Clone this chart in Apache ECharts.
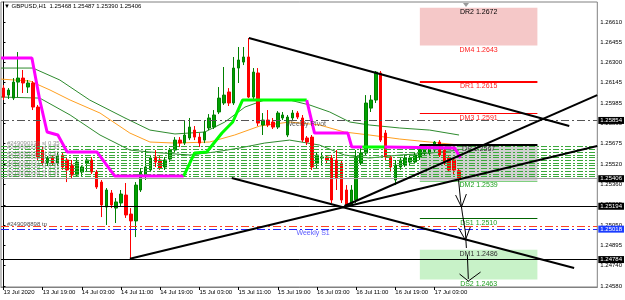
<!DOCTYPE html>
<html>
<head>
<meta charset="utf-8">
<script src="https://cdn.jsdelivr.net/npm/echarts@6/dist/echarts.min.js"></script>
<style>
  html, body { margin: 0; padding: 0; background: #fff; }
  #chart { width: 625px; height: 300px; }
</style>
</head>
<body>
<div id="chart"></div>
<script>
// GBPUSD H1, one bar per hour from 13 Jul 11:00
var open = [1.26103,1.26049,1.26026,1.26149,1.26180,1.26111,1.26142,1.25957,1.25626,1.25527,
  1.25573,1.25527,1.25588,1.25550,1.25511,1.25434,1.25457,1.25527,1.25550,1.25457,
  1.25380,1.25188,1.25296,1.25180,1.25219,1.25280,1.25134,1.25081,1.25319,1.25434,
  1.25473,1.25573,1.25550,1.25496,1.25557,1.25626,1.25703,1.25680,1.25719,1.25780,
  1.25726,1.25703,1.25796,1.25803,1.25919,1.25988,1.26073,1.25988,1.26257,1.26303,
  1.26342,1.26034,1.26219,1.25819,1.25857,1.25842,1.25803,1.25873,1.25742,1.25873,
  1.25911,1.25873,1.25719,1.25726,1.25527,1.25565,1.25573,1.25565,1.25550,1.25527,
  1.25319,1.25204,1.25242,1.25527,1.25603,1.25949,1.26011,1.26219,1.25757,1.25573,
  1.25396,1.25496,1.25511,1.25534,1.25534,1.25573,1.25603,1.25603,1.25626,1.25688,
  1.25626,1.25565,1.25550,1.25468];
var close = [1.26034,1.26088,1.26149,1.26180,1.26142,1.26142,1.25957,1.25573,1.25527,1.25565,
  1.25527,1.25580,1.25496,1.25473,1.25434,1.25534,1.25496,1.25550,1.25457,1.25342,
  1.25204,1.25319,1.25204,1.25227,1.25288,1.25127,1.25081,1.25357,1.25457,1.25496,
  1.25565,1.25534,1.25488,1.25550,1.25626,1.25703,1.25680,1.25742,1.25803,1.25726,
  1.25680,1.25765,1.25873,1.25896,1.26026,1.26049,1.25988,1.26257,1.26319,1.26342,
  1.26034,1.26226,1.25834,1.25857,1.25819,1.25803,1.25911,1.25896,1.25880,1.25911,
  1.25880,1.25703,1.25688,1.25496,1.25588,1.25573,1.25550,1.25242,1.25411,1.25242,
  1.25196,1.25319,1.25573,1.25603,1.25988,1.26011,1.26226,1.25703,1.25573,1.25496,
  1.25511,1.25550,1.25565,1.25565,1.25588,1.25642,1.25642,1.25650,1.25688,1.25588,
  1.25534,1.25473,1.25473,1.25406];
var low = [1.26011,1.26019,1.26011,1.26034,1.26065,1.26065,1.25934,1.25550,1.25511,1.25503,
  1.25511,1.25503,1.25473,1.25380,1.25411,1.25419,1.25427,1.25457,1.25442,1.25327,
  1.25111,1.25050,1.25180,1.25065,1.25196,1.25104,1.24784,1.24957,1.25304,1.25396,
  1.25457,1.25496,1.25473,1.25473,1.25534,1.25611,1.25650,1.25665,1.25703,1.25703,
  1.25650,1.25680,1.25780,1.25788,1.25903,1.25973,1.25965,1.25973,1.26142,1.26280,
  1.26026,1.26011,1.25811,1.25742,1.25803,1.25788,1.25788,1.25857,1.25726,1.25857,
  1.25865,1.25688,1.25665,1.25473,1.25488,1.25511,1.25527,1.25219,1.25319,1.25219,
  1.25194,1.25196,1.25219,1.25511,1.25588,1.25919,1.25988,1.25688,1.25550,1.25457,
  1.25357,1.25473,1.25496,1.25511,1.25519,1.25550,1.25580,1.25588,1.25611,1.25573,
  1.25511,1.25457,1.25434,1.25390];
var high = [1.26126,1.26103,1.26180,1.26380,1.26242,1.26165,1.26157,1.25973,1.25650,1.25580,
  1.25588,1.25611,1.25611,1.25565,1.25550,1.25565,1.25511,1.25565,1.25573,1.25473,
  1.25396,1.25334,1.25319,1.25257,1.25319,1.25373,1.25180,1.25380,1.25488,1.25626,
  1.25588,1.25626,1.25580,1.25573,1.25642,1.25726,1.25726,1.25850,1.25873,1.25811,
  1.25757,1.25857,1.25903,1.25934,1.26111,1.26265,1.26103,1.26342,1.26419,1.26419,
  1.26488,1.26257,1.26257,1.25911,1.25934,1.25873,1.25926,1.25919,1.25896,1.25934,
  1.25926,1.25896,1.25734,1.25742,1.25611,1.25611,1.25588,1.25588,1.25626,1.25550,
  1.25357,1.25357,1.25626,1.25642,1.26049,1.26049,1.26234,1.26234,1.25780,1.25588,
  1.25550,1.25573,1.25588,1.25588,1.25611,1.25665,1.25665,1.25673,1.25696,1.25703,
  1.25650,1.25580,1.25565,1.25487];

// time labels (bar index -> text)
var tickBars = [0, 8, 16, 24, 32, 40, 48, 56, 64, 72, 80, 88];
var tickLabels = ['13 Jul 2020','13 Jul 19:00','14 Jul 03:00','14 Jul 11:00','14 Jul 19:00','15 Jul 03:00',
  '15 Jul 11:00','15 Jul 19:00','16 Jul 03:00','16 Jul 11:00','16 Jul 19:00','17 Jul 03:00'];
var priceTicks = [1.24580,1.24740,1.24895,1.25050,1.25205,1.25360,1.25520,1.25675,1.25830,1.25985,1.26145,1.26300,1.26455,1.26610];

// indicator lines, read at their turning points [bar, price]
var bandUpper = [[-0.5,1.26257],[6,1.26257],[11.5,1.26165],[17.6,1.26011],[24.8,1.25873],[29.9,1.25780],[35,1.25750],
  [41.1,1.25765],[45.2,1.25842],[49.3,1.25957],[53.3,1.26011],[58.4,1.26011],[62.5,1.25973],[66.6,1.25919],
  [70.7,1.25842],[74.7,1.25819],[80.9,1.25796],[87,1.25780],[93,1.25742]];
var maMid = [[-0.5,1.26172],[5.4,1.26157],[9.5,1.26088],[13.6,1.26011],[19.7,1.25911],[25.8,1.25757],[29.9,1.25688],
  [35,1.25680],[42.1,1.25688],[47.2,1.25742],[52.3,1.25811],[58.4,1.25842],[64.5,1.25819],[69.6,1.25765],
  [74.7,1.25742],[80.9,1.25711],[87,1.25688],[93,1.25665]];
var bandLower = [[-0.5,1.26034],[7.4,1.26026],[13.6,1.25896],[19.7,1.25742],[25.8,1.25626],[29.9,1.25611],[38,1.25588],
  [43.1,1.25611],[48.2,1.25642],[53.3,1.25680],[58.4,1.25703],[64.5,1.25665],[69.6,1.25588],[74.7,1.25565],
  [80.9,1.25588],[87,1.25603],[93,1.25626]];
var stopDown1 = [[-0.5,1.26334],[5.8,1.26334],[7.4,1.26011],[8.9,1.25765],[11.1,1.25742],[13,1.25611],[19.1,1.25611],[22.7,1.25427],[36.8,1.25427]];
var stopUp1 = [[36.8,1.25427],[39,1.25603],[41.5,1.25611],[44.6,1.25757],[46.8,1.25842],[48.8,1.26011],[61.9,1.26011]];
var stopDown2 = [[61.9,1.26011],[63.5,1.25757],[70.3,1.25757],[71.1,1.25650],[73.3,1.25650]];
var stopUp2 = [[73.3,1.25650],[77.8,1.25650]];
var stopDown3 = [[77.8,1.25650],[92.1,1.25642],[93.3,1.25565]];

// drawn objects
var trendLines = [
  [[50.1,1.26488],[115.5,1.25811]],
  [[46.6,1.25411],[116.5,1.24719]],
  [[25.8,1.24790],[121.2,1.25657]],
  [[69.6,1.25196],[121.2,1.26049]]
];
var arrowStrokes = [
  [[92.9,1.25396],[93.3,1.25242],[93.7,1.25134],[94.3,1.24996],[94.5,1.24873]],
  [[92.3,1.25280],[93.5,1.25188],[94.5,1.25288]],
  [[92.9,1.25027],[94.3,1.24934],[95.3,1.25034]],
  [[94.7,1.24819],[94.9,1.24635]],
  [[93.1,1.24673],[94.9,1.24619],[97.4,1.24688]]
];
var orderLevels = [1.25652,1.25632,1.25609,1.25588,1.25570,1.25550,1.25524,1.25506,1.25486,1.25465,1.25442,1.25421];
var weeklyPivot = 1.25854, weeklyS1 = 1.25018, tpLevel = 1.25040, bid = 1.25406;
var blackLevels = [1.25194, 1.24784];
var dayStart = 85, dayEnd = 109;
var pivotNames = ['DR2','DM4','DR1','DM3','DP','DM2','DS1','DM1','DS2'];
var pivotValues = [1.2672,1.2643,1.2615,1.2591,1.2567,1.2539,1.2510,1.2486,1.2463];

var FONT = "'Liberation Sans',Arial,sans-serif";

function path(points, color, width, z) {
  return { type: 'line', data: points, symbol: 'none', silent: true, animation: false,
    lineStyle: { color: color, width: width }, z: z || 3 };
}

function hLine(p, color, width, type, boxColor) {
  return {
    yAxis: p,
    lineStyle: { color: color, width: width, type: type },
    label: boxColor ? {
      show: true, position: 'end', distance: 1, formatter: p.toFixed(5),
      color: '#fff', backgroundColor: boxColor, padding: [1, 2, 0, 2],
      fontFamily: FONT, fontSize: 6
    } : { show: false }
  };
}

function seg(name, color, width, textColor) {
  var p = pivotValues[pivotNames.indexOf(name)];
  return [
    { coord: [dayStart, p], lineStyle: { color: color, width: width, type: 'solid' },
      label: { show: true, position: 'insideMiddleBottom', distance: 1,
        formatter: name + ' ' + p.toFixed(4), color: textColor, fontFamily: FONT, fontSize: 7 } },
    { coord: [dayEnd, p] }
  ];
}

var series = [];
series.push(path(bandUpper, '#2e8b2e', 1, 2));
series.push(path(maMid, '#ffa020', 1, 2));
series.push(path(bandLower, '#2e8b2e', 1, 2));

series.push({
  type: 'line', data: [], silent: true, animation: false,
  markArea: {
    silent: true,
    data: [
      [{ coord: [dayStart, pivotValues[0]], itemStyle: { color: 'rgba(240,170,170,0.65)' } }, { coord: [dayEnd, pivotValues[1]] }],
      [{ coord: [dayStart, pivotValues[4]], itemStyle: { color: 'rgba(150,150,150,0.45)' } }, { coord: [dayEnd, pivotValues[5]] }],
      [{ coord: [dayStart, pivotValues[7]], itemStyle: { color: 'rgba(170,235,170,0.65)' } }, { coord: [dayEnd, pivotValues[8]] }]
    ]
  },
  markLine: {
    silent: true, symbol: ['none', 'none'], animation: false, precision: 6,
    data: orderLevels.map(function (p) { return hLine(p, '#3aa83a', 1, [6, 2, 2, 2]); })
      .concat([
        hLine(bid, '#a0a0a0', 1, 'solid', '#000'),
        hLine(weeklyPivot, '#555', 1, [8, 3, 2, 3], '#000'),
        hLine(tpLevel, '#ff4020', 1, [8, 3, 2, 3]),
        hLine(weeklyS1, '#2020ff', 1, [8, 3, 2, 3], '#1a3cff'),
        hLine(blackLevels[0], '#000', 1, 'solid', '#000'),
        hLine(blackLevels[1], '#000', 1, 'solid', '#000')
      ])
  },
  z: 1
});

series.push({
  type: 'candlestick',
  data: open.map(function (o, i) { return [i, o, close[i], low[i], high[i]]; }),
  encode: { x: 0, y: [1, 2, 3, 4] },
  barWidth: 3,
  silent: true, animation: false,
  itemStyle: { color: '#00a000', color0: '#ff0000', borderColor: '#008000', borderColor0: '#ff0000', borderWidth: 1 },
  z: 4
});

series.push(path(stopDown1, '#ff00ff', 3, 5));
series.push(path(stopUp1, '#00ff00', 3, 5));
series.push(path(stopDown2, '#ff00ff', 3, 5));
series.push(path(stopUp2, '#00ff00', 3, 5));
series.push(path(stopDown3, '#ff00ff', 3, 5));

series.push({
  type: 'line', data: [], silent: true, animation: false, z: 6,
  markLine: {
    silent: true, symbol: ['none', 'none'], animation: false, precision: 6,
    data: [
      seg('DR2', 'rgba(0,0,0,0)', 0, '#000'),
      seg('DM4', 'rgba(0,0,0,0)', 0, '#ff2020'),
      seg('DR1', '#ff0000', 2, '#ff2020'),
      seg('DM3', '#ff0000', 1, '#ff2020'),
      seg('DP', '#000', 2, '#333'),
      seg('DM2', '#7fd07f', 1, '#20a020'),
      seg('DS1', '#006400', 1, '#20a020'),
      seg('DM1', 'rgba(0,0,0,0)', 0, '#333'),
      seg('DS2', 'rgba(0,0,0,0)', 0, '#20a020')
    ]
  }
});

trendLines.forEach(function (t) { series.push(path(t, '#000', 2, 7)); });
arrowStrokes.forEach(function (t) { series.push(path(t, '#000', 1, 7)); });

// text objects
var texts = [
  [57.6, 1.25826, 'Weekly Pivot', '#333', 7],
  [59.8, 1.24988, 'Weekly S1', '#3030ff', 7],
  [0.7, 1.25057, '#249098898 tp', '#222', 6],
  [0.7, 1.25680, '#249090138 sl 0.35', '#777', 6],
  [0.7, 1.25650, '#249090134 sl 0.35', '#777', 6],
  [0.7, 1.25600, '#249090133 sl 0.31', '#777', 6],
  [0.7, 1.25570, '#249090132 sl 0.31', '#777', 6],
  [0.7, 1.25530, '#249090131 sl 0.31', '#777', 6],
  [0.7, 1.25500, '#249090130 sl 0.31', '#777', 6],
  [0.7, 1.25465, '#249090129 sl 0.31', '#777', 6],
  [0.7, 1.25435, '#249090128 sl 0.31', '#777', 6]
];
series.push({
  type: 'scatter', symbolSize: 0, silent: true, animation: false, z: 8,
  data: texts.map(function (t) { return { value: [t[0], t[1]], label: { color: t[3], fontSize: t[4] } }; }),
  label: {
    show: true, position: 'right', distance: 0, fontFamily: FONT,
    formatter: function (d) { return texts[d.dataIndex][2]; }
  }
});

var chart = echarts.init(document.getElementById('chart'), null, { renderer: 'canvas' });
chart.setOption({
  animation: false,
  backgroundColor: '#fff',
  grid: { left: 1, right: 27, top: 2, bottom: 13, show: true, borderColor: '#808080', borderWidth: 1 },
  xAxis: {
    type: 'value', min: -0.51, max: 121.23,
    axisLine: { show: true, lineStyle: { color: '#808080' } },
    axisTick: { show: true, customValues: tickBars, length: 3, lineStyle: { color: '#000' } },
    splitLine: { show: false },
    axisLabel: {
      customValues: tickBars, margin: 2, align: 'left', color: '#000', fontFamily: FONT, fontSize: 6,
      formatter: function (v) { return tickLabels[tickBars.indexOf(Math.round(v))] || ''; }
    }
  },
  yAxis: {
    type: 'value', position: 'right', min: 1.24573, max: 1.26765, scale: true,
    axisLine: { show: true, lineStyle: { color: '#000' } },
    axisTick: { show: true, customValues: priceTicks, length: 2, lineStyle: { color: '#000' } },
    splitLine: { show: false },
    axisLabel: {
      customValues: priceTicks, margin: 3, color: '#000', fontFamily: FONT, fontSize: 6,
      formatter: function (v) { return v.toFixed(5); }
    }
  },
  graphic: [
    { type: 'text', left: 4, top: 3, z: 100,
      style: { text: '\u25BC GBPUSD,H1  1.25468 1.25487 1.25390 1.25406', fill: '#000', font: '6px ' + FONT } },
    { type: 'polygon', z: 100, shape: { points: [[463, 3], [469, 3], [466, 7]] }, style: { fill: '#999' } }
  ],
  series: series
});
</script>
</body>
</html>
